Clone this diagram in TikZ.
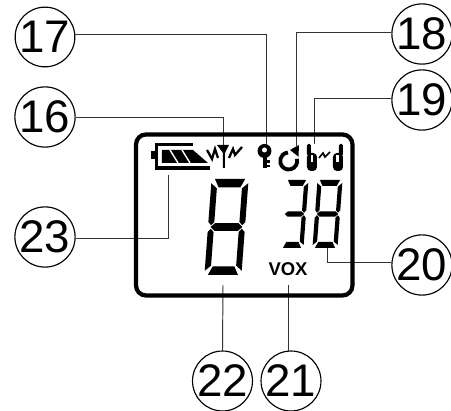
\documentclass[tikz,border=0pt]{standalone}
\usepackage{fontspec}
\setmainfont{Liberation Sans}
\tikzset{
  callout/.style={draw,circle,line width=0.65pt,minimum size=1.15cm,inner sep=0pt,font=\fontsize{26}{26}\selectfont},
  leader/.style={line width=0.55pt,color=black!80},
  seg/.style={fill=black,draw=none},
  icon/.style={line width=1.3pt,color=black}
}
% a seven segment cell, args: centre, half width, half height, thickness, slant
\newcommand{\segframe}[5]{
  \begin{scope}[shift={(#1)},xslant=#5]
    \def\a{#2} \def\b{#3} \def\t{#4}
    \fill[seg] (-\a+\t*0.4,-\b) -- (\a-\t*0.4,-\b) -- (\a-\t*0.9,-\b+\t) -- (-\a+\t*0.9,-\b+\t) -- cycle;
    \fill[seg] (-\a+\t*0.4,\b) -- (\a-\t*0.4,\b) -- (\a-\t*0.9,\b-\t) -- (-\a+\t*0.9,\b-\t) -- cycle;
    \fill[seg] (-\a+\t*0.8,-\t*0.45) -- (\a-\t*0.8,-\t*0.45) -- (\a-\t*0.3,0) -- (\a-\t*0.8,\t*0.45) -- (-\a+\t*0.8,\t*0.45) -- (-\a+\t*0.3,0) -- cycle;
    \fill[seg] (\a,-\b+\t*0.5) -- (\a,-\t*0.6) -- (\a-\t*0.35,-\t*0.2) -- (\a-\t*0.7,-\t*0.6) -- (\a-\t*0.7,-\b+\t*1.1) -- cycle;
    \fill[seg] (\a,\b-\t*0.5) -- (\a,\t*0.6) -- (\a-\t*0.35,\t*0.2) -- (\a-\t*0.7,\t*0.6) -- (\a-\t*0.7,\b-\t*1.1) -- cycle;
  \end{scope}
}
\newcommand{\segleft}[5]{
  \begin{scope}[shift={(#1)},xslant=#5]
    \def\a{#2} \def\b{#3} \def\t{#4}
    \fill[seg] (-\a,-\b+\t*0.5) -- (-\a,-\t*0.6) -- (-\a+\t*0.35,-\t*0.2) -- (-\a+\t*0.7,-\t*0.6) -- (-\a+\t*0.7,-\b+\t*1.1) -- cycle;
    \fill[seg] (-\a,\b-\t*0.5) -- (-\a,\t*0.6) -- (-\a+\t*0.35,\t*0.2) -- (-\a+\t*0.7,\t*0.6) -- (-\a+\t*0.7,\b-\t*1.1) -- cycle;
  \end{scope}
}
\begin{document}
\begin{tikzpicture}[x=0.02cm,y=-0.02cm]
  \useasboundingbox (0,0) rectangle (451,411);
  % callouts
  \node[callout] (n17) at (45,37) {17};
  \node[callout] (n16) at (45,117) {16};
  \node[callout] (n23) at (45,237) {23};
  \node[callout] (n18) at (422,34) {18};
  \node[callout] (n19) at (422,100) {19};
  \node[callout] (n20) at (422,265) {20};
  \node[callout] (n22) at (222.5,381) {22};
  \node[callout] (n21) at (291,381) {21};
  % free ends of the leaders
  \coordinate (k17) at (266,145);
  \coordinate (k16) at (223,146);
  \coordinate (k23) at (168,175);
  \coordinate (k18) at (296,146);
  \coordinate (k19) at (314.5,144);
  \coordinate (k20) at (327,248);
  \coordinate (k22) at (223,285);
  \coordinate (k21) at (288,285);
  \draw[leader] (n17.4) -| (k17);
  \draw[leader] (n16.0) -| (k16);
  \draw[leader] (n23.358) -| (k23);
  \draw[leader] (n18.178) -| (k18);
  \draw[leader] (n19.178) -| (k19);
  \draw[leader] (n20.175) -| (k20);
  \draw[leader] (n22.north) -- (k22);
  \draw[leader] (k21 |- n21.110) -- (k21);
  % display
  \draw[line width=2.4pt,rounded corners=0.2cm] (136,134.5) rectangle (352.5,295.5);
  % battery
  \fill (151,151) rectangle (156,159);
  \draw[line width=1.8pt] (193,144.5) -- (156.5,144.5) -- (156.5,168) -- (210,168);
  \fill (162,150) -- (193,150) -- (208,163) -- (162,163) -- cycle;
  \draw[white,line width=0.8pt] (170,150) -- (178,163);
  \draw[white,line width=0.8pt] (182,150) -- (190,163);
  % antenna
  \fill (217,145) -- (229,145) -- (225,153) -- (225,168) -- (223,168) -- (223,153) -- cycle;
  \draw[icon] (207,150) -- (212,159) -- (215,149) -- (218,158);
  \draw[icon] (229,158) -- (233,149) -- (235,155) -- (242,147);
  % key
  \fill (264.5,151) circle (0.14cm);
  \fill[white] (264.5,150) circle (0.05cm);
  \fill (263,155) rectangle (267,168);
  \fill (267,160.5) rectangle (270.5,163);
  \fill (267,165) rectangle (270.5,167.5);
  % rotate arrow
  \draw[icon,line width=2.2pt] (296.9,158.8) arc (15:-265:0.17cm);
  \fill (290,150) -- (299,145) -- (298.5,156.7) -- cycle;
  % handsets
  \fill[rounded corners=0.03cm] (307,144) rectangle (311,156);
  \fill[rounded corners=0.08cm] (307,153) rectangle (317,171);
  \fill[white] (311,155) rectangle (313.5,162);
  \fill[rounded corners=0.03cm] (339,144) rectangle (343,156);
  \fill[rounded corners=0.08cm] (333,153) rectangle (343,171);
  \fill[white] (336.5,155) rectangle (339,162);
  \draw[icon,line width=0.9pt] (319,158) -- (323,153) -- (325,157) -- (330,152);
  % digits
  \segframe{226.5,227}{18.5}{48}{8.5}{0.075}
  \segleft{226.5,227}{18.5}{48}{8.5}{0.075}
  \segframe{294.5,214}{11.5}{34}{6}{0.075}
  \segframe{327.5,214}{12.5}{34}{6}{0.075}
  \segleft{327.5,214}{12.5}{34}{6}{0.075}
  \node[font=\fontsize{10.5}{10.5}\selectfont\bfseries,inner sep=0pt] (vox) at (288,269) {VOX};
\end{tikzpicture}
\end{document}
